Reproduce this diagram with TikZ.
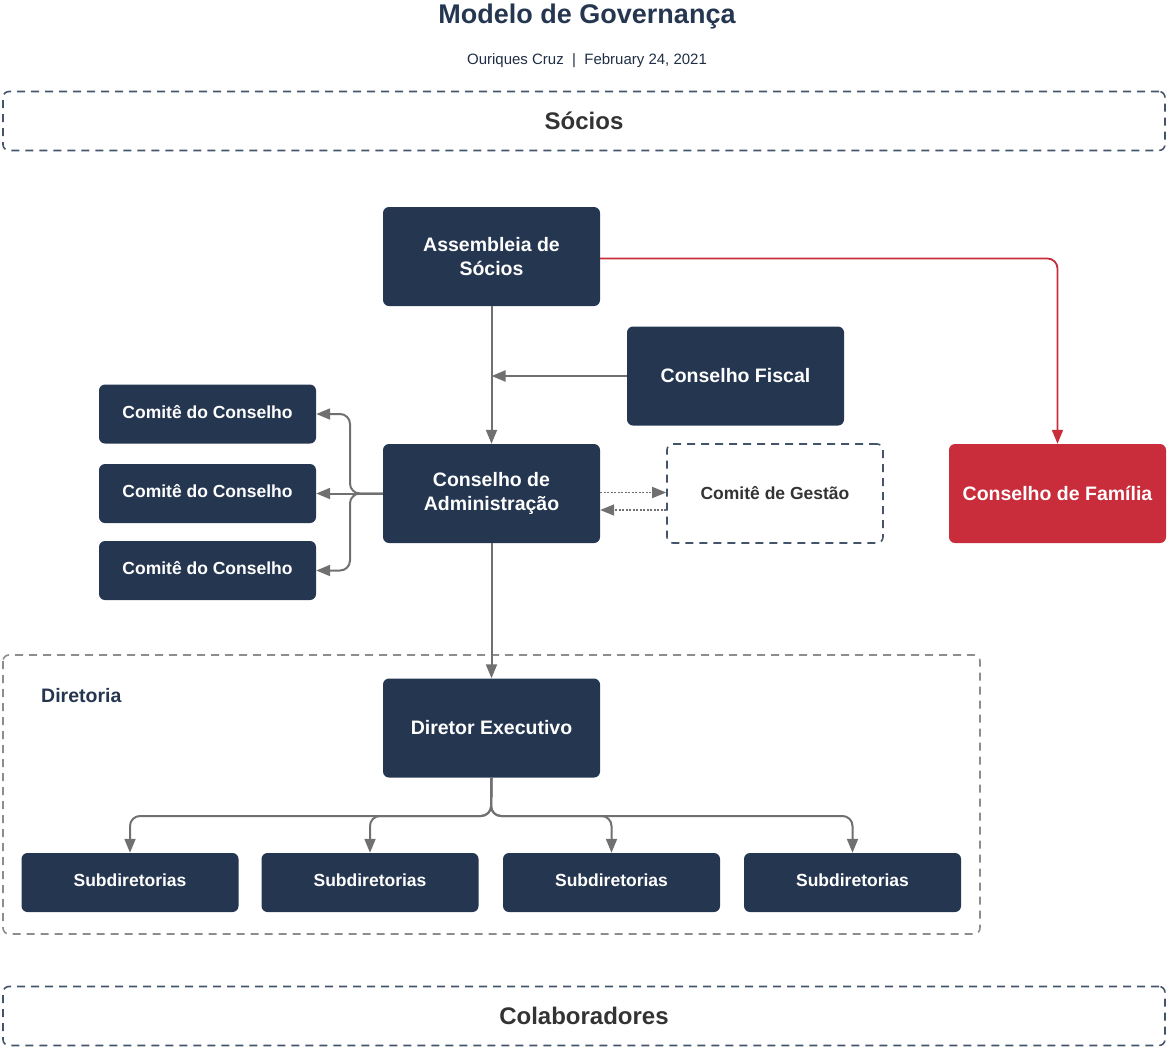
\documentclass[tikz,border=0pt]{standalone}
\usepackage{fontspec}
\setmainfont{Liberation Sans}
\usetikzlibrary{arrows.meta}
\definecolor{navy}{HTML}{253650}
\definecolor{famred}{HTML}{C92C3A}
\definecolor{arrowgray}{HTML}{707070}
\definecolor{dashnavy}{HTML}{44546A}
\definecolor{txtdark}{HTML}{333333}
\begin{document}
\begin{tikzpicture}[x=1pt,y=-1pt,
  navybox/.style={draw=none,fill=navy,rounded corners=6pt,text=white,align=center,
    font=\fontsize{19.5}{24}\selectfont\bfseries,inner sep=0pt},
  smallbox/.style={navybox,minimum width=217pt,minimum height=59pt,text depth=5pt,font=\fontsize{17.5}{21}\selectfont\bfseries},
  bigbox/.style={navybox,minimum width=217pt,minimum height=99pt},
  band/.style={draw=dashnavy,line width=1.6pt,dash pattern=on 8pt off 6pt,rounded corners=6pt,
    minimum width=1162pt,minimum height=59pt,inner sep=0pt,text=txtdark,
    font=\fontsize{24}{28}\selectfont\bfseries},
  conn/.style={draw=arrowgray,line width=2pt,-{Triangle[length=14pt,width=11pt]}},
  tip/.style={-{Triangle[length=14pt,width=11pt]}}
]
\useasboundingbox (0,0) rectangle (1168,1050);

% title
\node[text=navy,font=\fontsize{27}{31}\selectfont\bfseries] (title) at (587,17) {Modelo de Governança};
\node[text=navy!85!black,font=\fontsize{15}{18}\selectfont] (sub) at (587,61) {Ouriques Cruz~~|~~February 24, 2021};

% bands
\node[band] (socios) at (584,121) {Sócios};
\node[band] (colab) at (584,1016) {Colaboradores};

% diretoria frame
\draw[draw=arrowgray!80,line width=1.6pt,dash pattern=on 8pt off 6pt,rounded corners=6pt] (3,655) rectangle (980,934);
\node[anchor=west,text=navy,font=\fontsize{19.5}{23}\selectfont\bfseries,inner sep=0pt] (dirlabel) at (41,696) {Diretoria};

% main boxes
\node[bigbox] (ass) at (491.5,256.5) {Assembleia de\\Sócios};
\node[bigbox] (cf) at (735.5,376) {Conselho Fiscal};
\node[bigbox] (ca) at (491.5,493.5) {Conselho de\\Administração};
\node[draw=dashnavy,line width=1.6pt,dash pattern=on 8pt off 6pt,rounded corners=6pt,fill=white,
  minimum width=216pt,minimum height=99pt,inner sep=0pt,text=txtdark,
  font=\fontsize{17.5}{21}\selectfont\bfseries] (cg) at (775,493.5) {Comitê de Gestão};
\node[bigbox,fill=famred] (fam) at (1057.5,493.5) {Conselho de Família};
\node[bigbox] (de) at (491.5,728) {Diretor Executivo};

% comites
\node[smallbox] (c1) at (207.5,414) {Comitê do Conselho};
\node[smallbox] (c2) at (207.5,493.5) {Comitê do Conselho};
\node[smallbox] (c3) at (207.5,570.5) {Comitê do Conselho};

% subdiretorias
\node[smallbox] (s1) at (130,882.5) {Subdiretorias};
\node[smallbox] (s2) at (370,882.5) {Subdiretorias};
\node[smallbox] (s3) at (611.5,882.5) {Subdiretorias};
\node[smallbox] (s4) at (852.5,882.5) {Subdiretorias};

% connectors
\draw[conn] (ass.south) -- (ca.north);
\draw[conn] (cf.west) -- (cf.west -| ass.south);
\draw[conn,draw=famred,line width=1.8pt,rounded corners=10pt] ([yshift=-2pt]ass.east) -| (fam.north);

\coordinate (br) at (350,493.5);
\draw[conn] (ca.west) -- (c2.east);
\draw[conn,rounded corners=10pt] (ca.west) -- (br) |- (c1.east);
\draw[conn,rounded corners=10pt] (ca.west) -- (br) |- (c3.east);

\draw[draw=arrowgray,line width=1.6pt,dash pattern=on 2pt off 1.5pt,tip] ([yshift=1pt]ca.east) -- ([yshift=1pt]ca.east -| cg.west);
\draw[draw=arrowgray,line width=1.6pt,dash pattern=on 2pt off 1.5pt,tip] ([yshift=-16.5pt]cg.west) -- ([yshift=-16.5pt]cg.west -| ca.east);

\draw[conn] (ca.south) -- (de.north);

\coordinate (sb) at (491,816);
\draw[conn,rounded corners=10pt] (de.south) -- (sb) -| (s1.north);
\draw[conn,rounded corners=10pt] (de.south) -- (sb) -| (s2.north);
\draw[conn,rounded corners=10pt] (de.south) -- (sb) -| (s3.north);
\draw[conn,rounded corners=10pt] (de.south) -- (sb) -| (s4.north);
\end{tikzpicture}
\end{document}
